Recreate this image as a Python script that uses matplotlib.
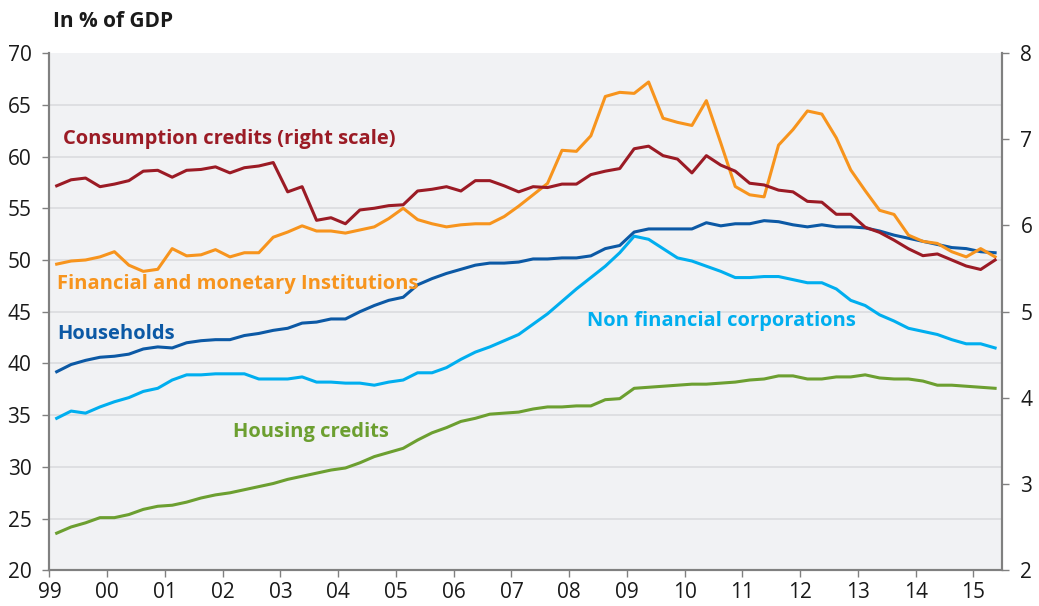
import numpy as np
import pandas as pd
import matplotlib.pyplot as plt

plt.rcParams['font.family'] = ['Open Sans', 'DejaVu Sans']

# quarterly observations, 1999Q1 .. 2015Q2
quarters = pd.period_range('1999Q1', '2015Q2', freq='Q')

# in % of GDP (left scale)
households = [39.2, 39.9, 40.3, 40.6, 40.7, 40.9, 41.4, 41.6, 41.5, 42.0, 42.2, 42.3, 42.3, 42.7, 42.9, 43.2,
              43.4, 43.9, 44.0, 44.3, 44.3, 45.0, 45.6, 46.1, 46.4, 47.6, 48.2, 48.7, 49.1, 49.5, 49.7, 49.7,
              49.8, 50.1, 50.1, 50.2, 50.2, 50.4, 51.1, 51.4, 52.7, 53.0, 53.0, 53.0, 53.0, 53.6, 53.3, 53.5,
              53.5, 53.8, 53.7, 53.4, 53.2, 53.4, 53.2, 53.2, 53.1, 52.8, 52.4, 52.1, 51.8, 51.5, 51.2, 51.1,
              50.8, 50.7]
non_financial = [34.7, 35.4, 35.2, 35.8, 36.3, 36.7, 37.3, 37.6, 38.4, 38.9, 38.9, 39.0, 39.0, 39.0, 38.5, 38.5,
                 38.5, 38.7, 38.2, 38.2, 38.1, 38.1, 37.9, 38.2, 38.4, 39.1, 39.1, 39.6, 40.4, 41.1, 41.6, 42.2,
                 42.8, 43.8, 44.8, 46.0, 47.2, 48.3, 49.4, 50.7, 52.3, 52.0, 51.1, 50.2, 49.9, 49.4, 48.9, 48.3,
                 48.3, 48.4, 48.4, 48.1, 47.8, 47.8, 47.2, 46.1, 45.6, 44.7, 44.1, 43.4, 43.1, 42.8, 42.3, 41.9,
                 41.9, 41.5]
financial = [49.6, 49.9, 50.0, 50.3, 50.8, 49.5, 48.9, 49.1, 51.1, 50.4, 50.5, 51.0, 50.3, 50.7, 50.7, 52.2,
             52.7, 53.3, 52.8, 52.8, 52.6, 52.9, 53.2, 54.0, 55.0, 53.9, 53.5, 53.2, 53.4, 53.5, 53.5, 54.2,
             55.2, 56.3, 57.4, 60.6, 60.5, 62.0, 65.8, 66.2, 66.1, 67.2, 63.7, 63.3, 63.0, 65.4, 61.3, 57.1,
             56.3, 56.1, 61.1, 62.6, 64.4, 64.1, 61.8, 58.7, 56.7, 54.8, 54.4, 52.4, 51.8, 51.6, 50.8, 50.3,
             51.1, 50.3]
housing = [23.6, 24.2, 24.6, 25.1, 25.1, 25.4, 25.9, 26.2, 26.3, 26.6, 27.0, 27.3, 27.5, 27.8, 28.1, 28.4,
           28.8, 29.1, 29.4, 29.7, 29.9, 30.4, 31.0, 31.4, 31.8, 32.6, 33.3, 33.8, 34.4, 34.7, 35.1, 35.2,
           35.3, 35.6, 35.8, 35.8, 35.9, 35.9, 36.5, 36.6, 37.6, 37.7, 37.8, 37.9, 38.0, 38.0, 38.1, 38.2,
           38.4, 38.5, 38.8, 38.8, 38.5, 38.5, 38.7, 38.7, 38.9, 38.6, 38.5, 38.5, 38.3, 37.9, 37.9, 37.8,
           37.7, 37.6]
# right scale
consumption = [6.46, 6.53, 6.55, 6.45, 6.48, 6.52, 6.63, 6.64, 6.56, 6.64, 6.65, 6.68, 6.61, 6.67, 6.69, 6.73,
               6.39, 6.45, 6.06, 6.09, 6.02, 6.18, 6.20, 6.23, 6.24, 6.40, 6.42, 6.45, 6.40, 6.52, 6.52, 6.46,
               6.39, 6.45, 6.44, 6.48, 6.48, 6.59, 6.63, 6.66, 6.89, 6.92, 6.81, 6.77, 6.61, 6.81, 6.70, 6.63,
               6.49, 6.47, 6.41, 6.39, 6.28, 6.27, 6.13, 6.13, 5.98, 5.92, 5.83, 5.73, 5.65, 5.67, 5.60, 5.53,
               5.49, 5.60]

year_ticks = list(range(1999, 2016))
year_labels = ['99', '00', '01', '02', '03', '04', '05', '06', '07', '08', '09', '10', '11', '12', '13', '14', '15']

c_cons = '#9b1b25'
c_fin = '#f7941d'
c_hh = '#0c59a5'
c_nfc = '#00aeef'
c_hous = '#6c9f30'
axis_col = '#808080'

x = quarters.year + (quarters.quarter - 0.5) / 4.0

fig = plt.figure(figsize=(10.39, 6.06), dpi=100)
ax = fig.add_axes([0.0476, 0.0587, 0.9171, 0.8538])
ax.set_facecolor('#f1f2f4')
ax2 = ax.twinx()

lw = 2.2
ax.plot(x, housing, color=c_hous, lw=lw)
ax.plot(x, non_financial, color=c_nfc, lw=lw)
ax.plot(x, households, color=c_hh, lw=lw)
ax.plot(x, financial, color=c_fin, lw=lw)
ax2.plot(x, consumption, color=c_cons, lw=lw)

ax.set_xlim(1999, 2015.5)
ax.set_ylim(20, 70)
ax2.set_ylim(2, 8)
ax.set_yticks(range(20, 71, 5))
ax2.set_yticks(range(2, 9))
ax.set_xticks(year_ticks)
ax.set_xticklabels(year_labels)

for y in range(25, 70, 5):
    ax.axhline(y, color='#dcdde1', lw=1.3, zorder=0)

for a in (ax, ax2):
    a.spines['top'].set_visible(False)
    for s in ('left', 'right', 'bottom'):
        a.spines[s].set_color(axis_col)
        a.spines[s].set_linewidth(1.5)
ax.tick_params(axis='both', colors=axis_col, labelcolor='#1a1a1a', labelsize=15, length=5, width=1)
ax.tick_params(axis='x', pad=3)
ax2.tick_params(axis='y', colors=axis_col, labelcolor='#1a1a1a', labelsize=15, length=5, width=1, pad=8)
ax.tick_params(axis='y', pad=8)

fs = 14.5
ax.text(1999.23, 61.7, 'Consumption credits (right scale)', color=c_cons, fontsize=fs,
        fontweight='bold', va='center')
ax.text(1999.13, 47.7, 'Financial and monetary Institutions', color=c_fin, fontsize=fs,
        fontweight='bold', va='center')
ax.text(1999.13, 42.8, 'Households', color=c_hh, fontsize=fs, fontweight='bold', va='center')
ax.text(2008.3, 44.1, 'Non financial corporations', color=c_nfc, fontsize=fs,
        fontweight='bold', va='center')
ax.text(2002.17, 33.4, 'Housing credits', color=c_hous, fontsize=fs, fontweight='bold', va='center')

fig.text(0.051, 0.965, 'In % of GDP', fontsize=15, fontweight='bold', color='#1a1a1a', va='center')

fig.savefig('out.png', dpi=100)
